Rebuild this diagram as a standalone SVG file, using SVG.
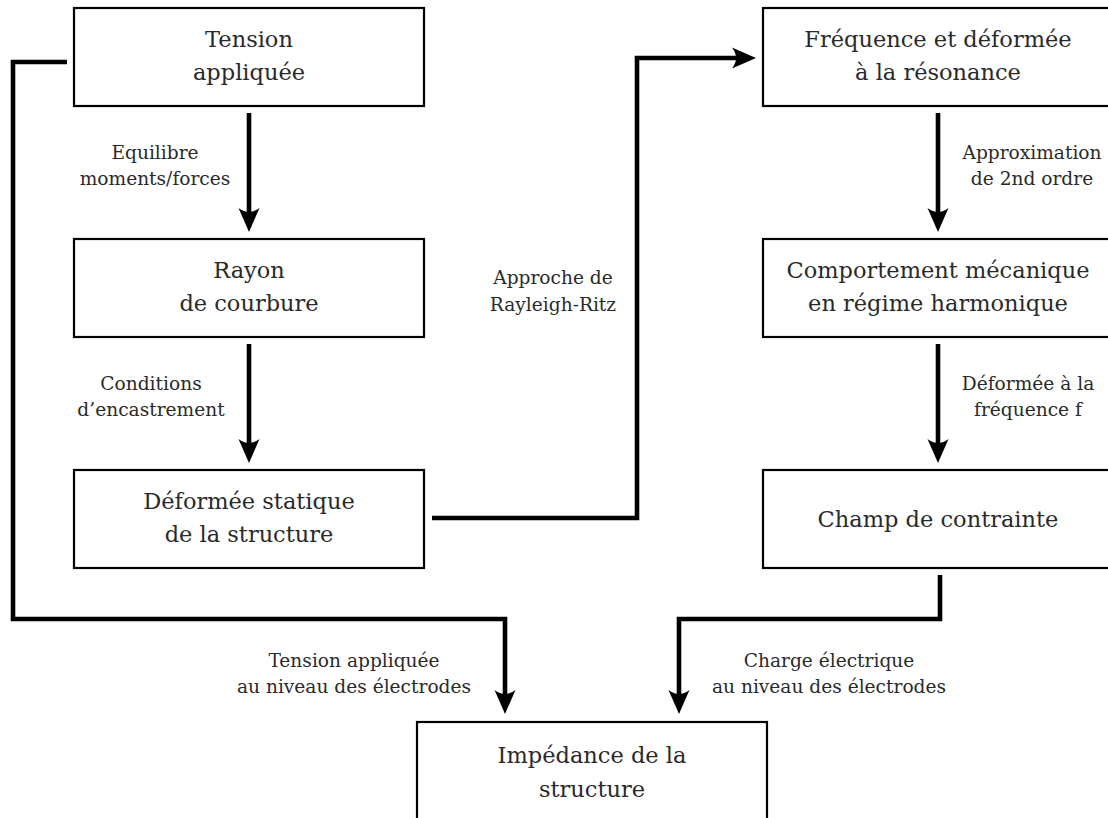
<svg xmlns="http://www.w3.org/2000/svg" width="1108" height="818" viewBox="0 0 1108 818">
<style>
.box{fill:#fff;stroke:#000;stroke-width:2.2}
.t{font-family:'DejaVu Serif',serif;font-size:22.5px;fill:#2a2a2a;text-anchor:middle}
.l{font-family:'DejaVu Serif',serif;font-size:18.6px;fill:#2a2a2a;text-anchor:middle}
.c{fill:none;stroke:#000;stroke-width:4.6;stroke-linejoin:miter;stroke-linecap:butt}
</style>
<defs>
<marker id="ah" markerUnits="userSpaceOnUse" markerWidth="30" markerHeight="26" refX="12" refY="10.5" orient="auto" overflow="visible">
<path d="M24,10.5 L0,0 Q8,10.5 0,21 Z" fill="#000"/>
</marker>
</defs>
<rect width="1108" height="818" fill="#fff"/>
<g id="connectors">
<path class="c" d="M249,113 V220" marker-end="url(#ah)"/>
<path class="c" d="M249,344 V451" marker-end="url(#ah)"/>
<path class="c" d="M938,113 V220" marker-end="url(#ah)"/>
<path class="c" d="M938,344 V451" marker-end="url(#ah)"/>
<path class="c" d="M432,518 H637 V58 H744" marker-end="url(#ah)"/>
<path class="c" d="M67,62 H13 V619 H505 V702" marker-end="url(#ah)"/>
<path class="c" d="M940,575 V619 H679 V702" marker-end="url(#ah)"/>
</g>
<g id="labels">
<text class="l" x="155" y="159">Equilibre</text>
<text class="l" x="155" y="185">moments/forces</text>
<text class="l" x="151" y="390">Conditions</text>
<text class="l" x="151" y="416">d’encastrement</text>
<text class="l" x="553" y="284">Approche de</text>
<text class="l" x="553" y="311">Rayleigh-Ritz</text>
<text class="l" x="1032" y="159">Approximation</text>
<text class="l" x="1032" y="185">de 2nd ordre</text>
<text class="l" x="1028" y="390">Déformée à la</text>
<text class="l" x="1028" y="416">fréquence f</text>
<text class="l" x="354" y="667">Tension appliquée</text>
<text class="l" x="354" y="693">au niveau des électrodes</text>
<text class="l" x="829" y="667">Charge électrique</text>
<text class="l" x="829" y="693">au niveau des électrodes</text>
</g>
<g id="n-tension">
<rect class="box" x="74" y="8" width="350" height="98"/>
<text class="t" x="249" y="47">Tension</text>
<text class="t" x="249" y="80">appliquée</text>
</g>
<g id="n-rayon">
<rect class="box" x="74" y="239" width="350" height="98"/>
<text class="t" x="249" y="278">Rayon</text>
<text class="t" x="249" y="311">de courbure</text>
</g>
<g id="n-deformee">
<rect class="box" x="74" y="470" width="350" height="98"/>
<text class="t" x="249" y="509">Déformée statique</text>
<text class="t" x="249" y="542">de la structure</text>
</g>
<g id="n-frequence">
<rect class="box" x="763" y="8" width="350" height="98"/>
<text class="t" x="938" y="47">Fréquence et déformée</text>
<text class="t" x="938" y="80">à la résonance</text>
</g>
<g id="n-comportement">
<rect class="box" x="763" y="239" width="350" height="98"/>
<text class="t" x="938" y="278">Comportement mécanique</text>
<text class="t" x="938" y="311">en régime harmonique</text>
</g>
<g id="n-champ">
<rect class="box" x="763" y="470" width="350" height="98"/>
<text class="t" x="938" y="527">Champ de contrainte</text>
</g>
<g id="n-impedance">
<rect class="box" x="417" y="722" width="350" height="110"/>
<text class="t" x="592" y="763">Impédance de la</text>
<text class="t" x="592" y="797">structure</text>
</g>
</svg>
